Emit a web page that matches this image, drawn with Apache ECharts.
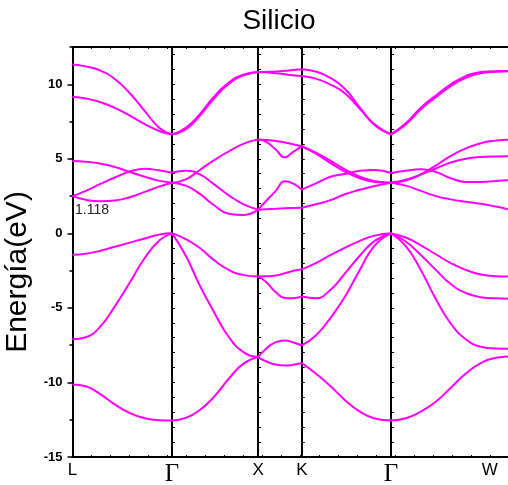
<!DOCTYPE html>
<html>
<head>
<meta charset="utf-8">
<script src="https://cdn.jsdelivr.net/npm/echarts@6/dist/echarts.min.js"></script>
<style>
  html, body { margin: 0; padding: 0; background: #fff; }
  #chart { width: 508px; height: 485px; }
</style>
</head>
<body>
<div id="chart"></div>
<script>
// high symmetry points along the k path (same units as the samples below)
const kTicks = [0, 99.5, 185.6, 229.3, 318.6, 417.3];
const kNames = ['L', 'Γ', 'X', 'K', 'Γ', 'W'];
const kEnd = 437;
const gapLabel = '1.118';

// L -> Γ
const kLG = [0, 13.3, 27.3, 42.3, 57.3, 72.3, 87.3, 99.5];
const eLG = [
    [11.32, 11.2, 10.94, 10.35, 9.4, 8.2, 7.05, 6.64],
    [9.17, 9.05, 8.81, 8.42, 7.9, 7.32, 6.85, 6.64],
    [4.85, 4.8, 4.68, 4.45, 4.12, 3.8, 3.52, 3.4],
    [2.5, 2.85, 3.3, 3.75, 4.15, 4.33, 4.22, 4.07],
    [2.5, 2.25, 2.15, 2.2, 2.42, 2.78, 3.15, 3.4],
    [-1.43, -1.36, -1.18, -0.9, -0.62, -0.34, -0.08, 0],
    [-7.11, -6.97, -6.29, -4.9, -3.3, -1.65, -0.45, 0],
    [-10.13, -10.25, -10.77, -11.47, -12.05, -12.4, -12.53, -12.55]
];

// Γ -> X
const kGX = [99.5, 113.3, 127.3, 141.3, 156.3, 171.3, 185.6];
const eGX = [
    [6.64, 7.08, 8.0, 9.15, 10.12, 10.66, 10.83],
    [6.64, 6.98, 7.88, 9.03, 10.02, 10.6, 10.83],
    [3.4, 3.62, 4.25, 4.9, 5.5, 6.02, 6.29],
    [4.07, 4.2, 3.95, 3.3, 2.55, 1.95, 1.59],
    [3.4, 3.2, 2.65, 1.9, 1.32, 1.24, 1.59],
    [0, -0.38, -0.98, -1.78, -2.45, -2.8, -2.89],
    [0, -1.5, -3.5, -5.25, -6.95, -7.98, -8.3],
    [-12.55, -12.38, -11.85, -10.98, -9.75, -8.72, -8.3]
];

// X -> K
const kXK = [185.6, 193.3, 203.3, 212.3, 220.3, 229.3];
const eXK = [
    [10.83, 10.84, 10.86, 10.9, 10.95, 11.0],
    [10.83, 10.8, 10.74, 10.67, 10.61, 10.56],
    [6.29, 6.26, 6.2, 6.1, 5.98, 5.84],
    [6.29, 6.15, 5.62, 5.1, 5.45, 5.84],
    [1.59, 1.62, 1.65, 1.68, 1.7, 1.72],
    [1.59, 2.15, 2.85, 3.5, 3.35, 2.93],
    [-2.89, -2.88, -2.83, -2.68, -2.52, -2.42],
    [-2.89, -3.25, -3.95, -4.33, -4.35, -4.23],
    [-8.3, -7.75, -7.3, -7.18, -7.3, -7.52],
    [-8.3, -8.58, -8.8, -8.86, -8.82, -8.7]
];

// K -> Γ
const kKG = [229.3, 243.3, 257.3, 272.3, 287.3, 302.3, 318.6];
const eKG = [
    [11.0, 10.85, 10.45, 9.7, 8.45, 7.25, 6.64],
    [10.56, 10.38, 10.0, 9.4, 8.35, 7.3, 6.64],
    [5.84, 5.42, 4.9, 4.3, 3.8, 3.5, 3.4],
    [5.84, 5.35, 4.75, 4.15, 3.7, 3.45, 3.4],
    [2.93, 3.35, 3.78, 3.98, 4.2, 4.25, 4.05],
    [1.72, 1.95, 2.21, 2.62, 2.92, 3.18, 3.4],
    [-2.42, -2.0, -1.48, -0.97, -0.5, -0.15, 0],
    [-4.23, -4.35, -3.83, -2.7, -1.5, -0.5, 0],
    [-7.52, -6.85, -5.73, -4.27, -2.45, -0.8, 0],
    [-8.7, -9.4, -10.2, -11.17, -11.95, -12.42, -12.55]
];

// Γ -> W (and a bit past)
const kGW = [318.6, 333.3, 348.3, 363.3, 378.3, 393.3, 408.3, 423.3, 437];
const eGW = [
    [6.64, 7.38, 8.42, 9.25, 10.0, 10.55, 10.83, 10.88, 10.89],
    [6.64, 7.3, 8.32, 9.13, 9.88, 10.43, 10.74, 10.84, 10.87],
    [3.4, 3.55, 3.95, 4.55, 5.2, 5.7, 6.05, 6.22, 6.29],
    [3.4, 3.6, 3.95, 4.35, 4.75, 5.0, 5.12, 5.16, 5.17],
    [4.05, 4.2, 4.3, 4.12, 3.7, 3.45, 3.45, 3.52, 3.56],
    [3.4, 3.2, 2.85, 2.5, 2.28, 2.12, 1.98, 1.8, 1.6],
    [0, -0.28, -0.8, -1.4, -2.0, -2.45, -2.76, -2.87, -2.89],
    [0, -0.55, -1.45, -2.45, -3.4, -4.0, -4.28, -4.36, -4.38],
    [0, -0.85, -2.45, -4.4, -6.05, -7.1, -7.6, -7.72, -7.74],
    [-12.55, -12.4, -11.95, -11.3, -10.35, -9.4, -8.7, -8.35, -8.26]
];

const segments = [[kLG, eLG], [kGX, eGX], [kXK, eXK], [kKG, eKG], [kGW, eGW]];

const gridLeft = 72.5;
const gridWidth = 437;
const font = '"Liberation Sans", Arial, sans-serif';

const series = [];
segments.forEach(([ks, bands]) => {
    bands.forEach(band => {
        series.push({
            type: 'line',
            data: ks.map((k, i) => [k, band[i]]),
            smooth: true,
            symbol: 'none',
            silent: true,
            lineStyle: { color: '#ff00ff', width: 2 }
        });
    });
});

// vertical lines at Γ, X, K, Γ drawn as extra y axes pushed inside the grid
const innerAxes = kTicks.slice(1, 5).map(k => ({
    type: 'value',
    position: 'left',
    offset: -k * gridWidth / kEnd,
    min: -15,
    max: 12.5,
    interval: 1,
    axisLine: { show: true, lineStyle: { color: '#000', width: 2 } },
    axisTick: { show: true, inside: true, length: 3, lineStyle: { color: '#000', width: 1 } },
    axisLabel: { show: false },
    splitLine: { show: false }
}));

function kLabel(v) {
    for (let i = 0; i < kTicks.length; i++) {
        if (Math.abs(kTicks[i] - v) < 0.5) {
            return kNames[i] === 'Γ' ? '{g|Γ}' : '{n|' + kNames[i] + '}';
        }
    }
    return '';
}

const chart = echarts.init(document.getElementById('chart'), null, { renderer: 'canvas' });
chart.setOption({
    animation: false,
    backgroundColor: '#fff',
    title: {
        text: 'Silicio',
        left: 274,
        textAlign: 'center',
        top: 2,
        textStyle: { fontFamily: font, fontSize: 28, fontWeight: 'normal', color: '#000' }
    },
    grid: { left: gridLeft, top: 47, width: gridWidth, bottom: 28, outerBoundsMode: 'none' },
    xAxis: [
        {
            type: 'value',
            position: 'bottom',
            min: 0,
            max: kEnd,
            interval: 19,
            axisLine: { show: true, onZero: false, lineStyle: { color: '#000', width: 2 } },
            axisTick: { show: true, inside: true, length: 2, lineStyle: { color: '#000', width: 1 } },
            axisLabel: {
                customValues: kTicks,
                margin: 5,
                formatter: kLabel,
                rich: {
                    n: { fontFamily: font, fontSize: 17, color: '#000' },
                    g: { fontFamily: '"Liberation Serif", "Times New Roman", serif', fontSize: 25, color: '#000' }
                }
            },
            splitLine: { show: false }
        },
        {
            type: 'value',
            position: 'top',
            min: 0,
            max: kEnd,
            interval: 19,
            axisLine: { show: true, onZero: false, lineStyle: { color: '#000', width: 2 } },
            axisTick: { show: true, inside: true, length: 2, lineStyle: { color: '#000', width: 1 } },
            axisLabel: { show: false },
            splitLine: { show: false }
        }
    ],
    yAxis: [
        {
            type: 'value',
            position: 'left',
            min: -15,
            max: 12.5,
            interval: 5,
            name: 'Energía(eV)',
            nameLocation: 'middle',
            nameGap: 36,
            nameTextStyle: { fontFamily: font, fontSize: 30, color: '#000', padding: [0, 40, 0, 0] },
            axisLine: { show: true, onZero: false, lineStyle: { color: '#000', width: 2 } },
            axisTick: { show: true, inside: false, length: 5, lineStyle: { color: '#000', width: 1.5 } },
            axisLabel: {
                showMaxLabel: false,
                margin: 10,
                fontFamily: font,
                fontSize: 13,
                fontWeight: 'bold',
                color: '#000'
            },
            splitLine: { show: false }
        },
        {
            type: 'value',
            position: 'left',
            min: -15,
            max: 12.5,
            interval: 2.5,
            axisLine: { show: false },
            axisTick: { show: true, inside: false, length: 3, lineStyle: { color: '#000', width: 1.5 } },
            axisLabel: { show: false },
            splitLine: { show: false }
        }
    ].concat(innerAxes),
    graphic: [
        {
            type: 'text',
            left: 75,
            top: 203,
            style: { text: gapLabel, fontFamily: font, fontSize: 14, fill: '#222' }
        }
    ],
    series: series
});
</script>
</body>
</html>
